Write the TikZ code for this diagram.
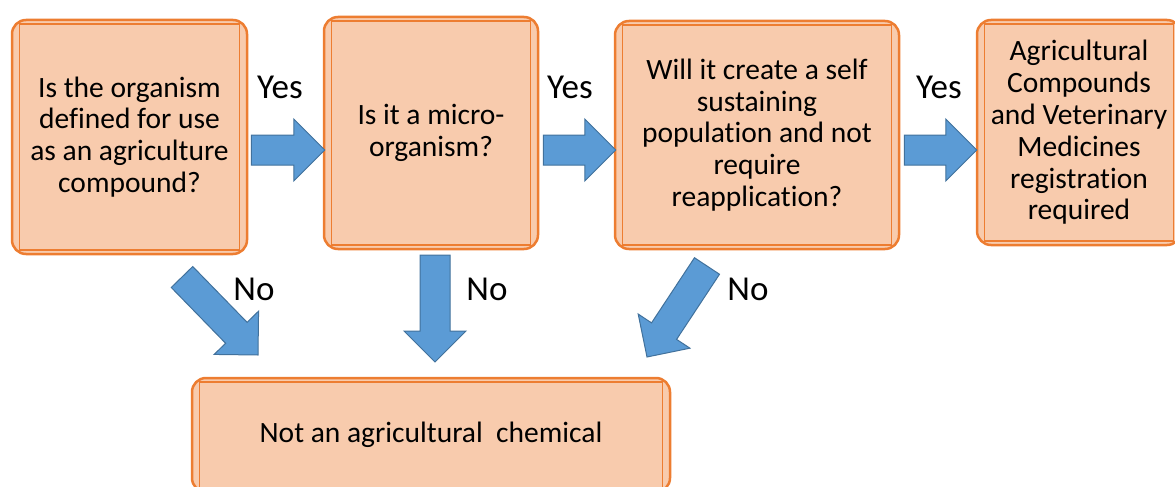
\documentclass[tikz,border=0pt]{standalone}
\usepackage{fontspec}
\setmainfont{Carlito}[Ligatures={NoCommon,NoContextual,NoRequired}]
\usetikzlibrary{calc}
\definecolor{boxfill}{HTML}{F8CBAD}
\definecolor{boxline}{HTML}{ED7D31}
\definecolor{arrowfill}{HTML}{5B9BD5}
\definecolor{arrowline}{HTML}{41719C}
\newcommand{\blockarrow}[2]{% #1: tail, #2: tip
	\coordinate (ba-t) at (#1);
	\coordinate (ba-p) at (#2);
	\coordinate (ba-h) at ($(ba-p)!31pt!(ba-t)$);
	\filldraw[arrowblock] ($(ba-t)!15pt!90:(ba-p)$) -- ($(ba-h)!15pt!90:(ba-p)$) -- ($(ba-h)!31pt!90:(ba-p)$) -- (ba-p)
		-- ($(ba-h)!31pt!-90:(ba-p)$) -- ($(ba-h)!15pt!-90:(ba-p)$) -- ($(ba-t)!15pt!-90:(ba-p)$) -- cycle;
}
\tikzset{
	qbox/.style={draw=boxline, line width=2.5pt, fill=boxfill, rounded corners=14pt, align=center,
		inner sep=0pt, font=\fontsize{29.5}{31.8}\selectfont,
		path picture={\draw[boxline, line width=1.4pt, sharp corners]
			([xshift=7.5pt,yshift=-4pt]path picture bounding box.north west) rectangle
			([xshift=-7.5pt,yshift=4pt]path picture bounding box.south east);}},
	answer/.style={font=\fontsize{35}{40}\selectfont},
	arrowblock/.style={fill=arrowfill, draw=arrowline, line width=1pt, line join=miter}
}

\begin{document}
\begin{tikzpicture}[x=1pt,y=-1pt]
	\useasboundingbox (0,0) rectangle (1175,487);
	\clip (0,0) rectangle (1175,487);

	% Question boxes
	\node[qbox, minimum width=235pt, minimum height=234pt] (q1) at (129.5,137)
		{Is the organism\\defined for use\\as an agriculture\\compound?};
	\node[qbox, minimum width=214pt, minimum height=232pt] (q2) at (431,133)
		{Is it a micro-\\organism?};
	\node[qbox, minimum width=284pt, minimum height=228pt] (q3) at (757,135)
		{Will it create a self\\sustaining\\population and not\\require\\reapplication?};

	% Outcome boxes
	\node[qbox, minimum width=204pt, minimum height=225pt] (q4) at (1079,132.5)
		{Agricultural\\Compounds\\and Veterinary\\Medicines\\registration\\required};
	\node[qbox, minimum width=478pt, minimum height=114pt] (q5) at (431,435)
		{Not an agricultural~ chemical};

	% Yes arrows
	\coordinate (row) at (0,150);
	\blockarrow{$(q1.east |- row)+(3,0)$}{$(q2.west |- row)+(2,0)$}
	\blockarrow{$(q2.east |- row)+(4,0)$}{$(q3.west |- row)+(2,0)$}
	\blockarrow{$(q3.east |- row)+(4,0)$}{$(q4.west |- row)+(1,0)$}

	% No arrows
	\coordinate (noa) at (182,277);
	\coordinate (noa-tip) at (258,355);
	\coordinate (nob) at (435,255);
	\coordinate (nob-tip) at (435,362);
	\coordinate (noc) at (707,266);
	\coordinate (noc-tip) at (647,357);
	\blockarrow{noa}{noa-tip}
	\blockarrow{nob}{nob-tip}
	\blockarrow{noc}{noc-tip}

	% Labels
	\node[answer] (yes1) at (280,87) {Yes};
	\node[answer] (yes2) at (570,87) {Yes};
	\node[answer] (yes3) at (939,87) {Yes};
	\node[answer] (no1) at (254,289) {No};
	\node[answer] (no2) at (487,289) {No};
	\node[answer] (no3) at (748,289) {No};
\end{tikzpicture}
\end{document}
